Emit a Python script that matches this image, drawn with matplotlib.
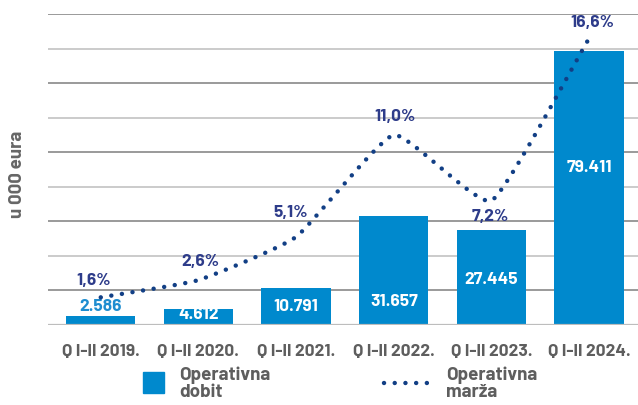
import numpy as np
import matplotlib
matplotlib.use("Agg")
import matplotlib.pyplot as plt
from matplotlib import font_manager as fm
from matplotlib.patches import Rectangle
from matplotlib.lines import Line2D

# ---- data ----
categories = ["Q I-II 2019.", "Q I-II 2020.", "Q I-II 2021.", "Q I-II 2022.", "Q I-II 2023.", "Q I-II 2024."]
dobit = [2586, 4612, 10791, 31657, 27445, 79411]
dobit_labels = ["2.586", "4.612", "10.791", "31.657", "27.445", "79.411"]
marza = [1.6, 2.6, 5.1, 11.0, 7.2, 16.6]
marza_labels = ["1,6%", "2,6%", "5,1%", "11,0%", "7,2%", "16,6%"]

# ---- style ----
avail = {f.name for f in fm.fontManager.ttflist}
main = next((f for f in ["Barlow", "Barlow Semi Condensed", "Roboto Condensed", "Archivo Narrow",
                          "Lato", "DejaVu Sans"] if f in avail), "DejaVu Sans")

BAR = "#0089CD"
NAVY = "#123F85"
LBL = "#2E3C8A"
GRAY = "#5E5E5E"

fig = plt.figure(figsize=(6.38, 4.05), dpi=100)
W, H = 638, 405
ax = fig.add_axes([48 / W, 1 - 325 / H, (638 - 48) / W, (325 - 14) / H])
ax2 = ax.twinx()

x = np.arange(len(categories))
ax.set_xlim(-0.54, 5.5)
ax.set_ylim(0, 90000)
ax2.set_ylim(0, 18)

for i, v in enumerate(range(10000, 90001, 10000)):
    col = "#7F7F7F" if i % 2 == 0 else "#BDBDBD"
    ax.axhline(v, color=col, lw=1.1, zorder=0)
ax.axhline(0, color="#BDBDBD", lw=1.6, zorder=3)

ax.bar(x, dobit, width=0.71, color=BAR, zorder=2)

lab_y = [5300, 2900, 5300, 6700, 13200, 45500]
for i, (v, t) in enumerate(zip(dobit, dobit_labels)):
    c = "#1E8DD0" if i == 0 else "white"
    ax.text(x[i], lab_y[i], t, ha="center", va="center", color=c,
            fontsize=12.5, fontweight="bold", family=main, zorder=4)

def catmull(xs, ys, n=40, k_t=14.0):
    xs = np.asarray(xs, float); ys = np.asarray(ys, float)
    px = np.concatenate([[2 * xs[0] - xs[1]], xs, [2 * xs[-1] - xs[-2]]])
    py = np.concatenate([[2 * ys[0] - ys[1]], ys, [2 * ys[-1] - ys[-2]]])
    ox, oy = [], []
    for k in range(1, len(px) - 2):
        p0, p1, p2, p3 = [np.array([px[j], py[j]]) for j in (k - 1, k, k + 1, k + 2)]
        c1 = p1 + (p2 - p0) / k_t
        c2 = p2 - (p3 - p1) / k_t
        t = np.linspace(0, 1, n, endpoint=(k == len(px) - 3))[:, None]
        b = (1 - t) ** 3 * p1 + 3 * (1 - t) ** 2 * t * c1 + 3 * (1 - t) * t ** 2 * c2 + t ** 3 * p2
        ox.append(b[:, 0]); oy.append(b[:, 1])
    return np.concatenate(ox), np.concatenate(oy)

sx, sy = catmull(x * 5.65, marza)
DOTS = (0, (0.01, 2.4))
ax2.plot(sx / 5.65, sy, color=NAVY, lw=3.2, linestyle=DOTS, dash_capstyle="round", zorder=5)

pct_y = [2.55, 3.65, 6.5, 12.05, 6.3, 17.5]
pct_dx = [-0.07, 0.02, -0.06, 0.01, -0.01, 0.03]
for i, t in enumerate(marza_labels):
    ax2.text(x[i] + pct_dx[i], pct_y[i], t, ha="center", va="center", color=LBL,
             fontsize=12.5, fontweight="bold", family=main, zorder=6)

for a in (ax, ax2):
    a.set_yticks([])
    for s in a.spines.values():
        s.set_visible(False)
ax.set_xticks(x)
ax.set_xticklabels(categories, fontsize=12.5, fontweight="bold", color=GRAY, family=main)
ax.tick_params(axis="x", length=0, pad=14)

fig.text(18 / W, 1 - 174 / H, "u 000 eura", rotation=90, ha="center", va="center",
         fontsize=13.5, fontweight="bold", color="#666666", family=main)

fig.patches.append(Rectangle((143 / W, 1 - 393 / H), 21 / W, 21 / H, transform=fig.transFigure,
                             color=BAR, figure=fig))
fig.text(179 / W, 1 - 384 / H, "Operativna\ndobit", ha="left", va="center", fontsize=13.5,
         fontweight="bold", color=GRAY, family=main, linespacing=1.0)
fig.lines.append(Line2D([384 / W, 436 / W], [1 - 383 / H, 1 - 383 / H], transform=fig.transFigure,
                        color=NAVY, lw=3.2, linestyle=DOTS, dash_capstyle="round"))
fig.text(446 / W, 1 - 384 / H, "Operativna\nmarža", ha="left", va="center", fontsize=13.5,
         fontweight="bold", color=GRAY, family=main, linespacing=1.0)

fig.savefig("out.png", dpi=100)
